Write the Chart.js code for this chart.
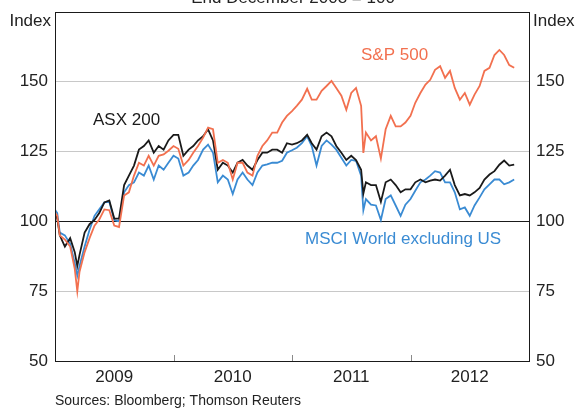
<!DOCTYPE html>
<html lang="en">
  <head>
    <meta charset="UTF-8" />
    <title>ASX 200, S&amp;P 500, MSCI World excluding US</title>
    <style>
      body { margin: 0; background: #fff; }
      canvas { display: block; }
    </style>
    <script src="https://cdn.jsdelivr.net/npm/chart.js"></script>
  </head>
  <body>
    <canvas id="indexChart" width="577" height="408"></canvas>
    <script>
      // End December 2008 = 100 at roughly half-monthly steps
      const dates = [
        "2009-01-02", "2009-01-08", "2009-01-16", "2009-02-01", "2009-02-16", "2009-03-01", "2009-03-09", "2009-03-16",
        "2009-04-01", "2009-04-16", "2009-05-01", "2009-05-16", "2009-06-01", "2009-06-16", "2009-07-01", "2009-07-16",
        "2009-08-01", "2009-08-16", "2009-09-01", "2009-09-16", "2009-10-01", "2009-10-16", "2009-11-01", "2009-11-16",
        "2009-12-01", "2009-12-16", "2010-01-01", "2010-01-16", "2010-02-01", "2010-02-16", "2010-03-01", "2010-03-16",
        "2010-04-01", "2010-04-16", "2010-05-01", "2010-05-16", "2010-06-01", "2010-06-16", "2010-07-01", "2010-07-16",
        "2010-08-01", "2010-08-16", "2010-09-01", "2010-09-16", "2010-10-01", "2010-10-16", "2010-11-01", "2010-11-16",
        "2010-12-01", "2010-12-16", "2011-01-01", "2011-01-16", "2011-02-01", "2011-02-16", "2011-03-01", "2011-03-16",
        "2011-04-01", "2011-04-16", "2011-05-01", "2011-05-16", "2011-06-01", "2011-06-16", "2011-07-01", "2011-07-16",
        "2011-08-01", "2011-08-08", "2011-08-16", "2011-09-01", "2011-09-16", "2011-10-01", "2011-10-16", "2011-11-01",
        "2011-11-16", "2011-12-01", "2011-12-16", "2012-01-01", "2012-01-16", "2012-02-01", "2012-02-16", "2012-03-01",
        "2012-03-16", "2012-04-01", "2012-04-16", "2012-05-01", "2012-05-16", "2012-06-01", "2012-06-16", "2012-07-01",
        "2012-07-16", "2012-08-01", "2012-08-16", "2012-09-01", "2012-09-16", "2012-10-01", "2012-10-16", "2012-11-01",
        "2012-11-16"
      ];
      const asx200 = [
        102.5, 101, 95, 91, 94, 89, 84, 88,
        96, 99, 100.5, 103, 106.8, 107.5, 101, 101,
        113, 116.4, 120, 125.7, 127, 129, 124.6, 127,
        125.7, 129, 131, 131, 123.5, 125.7, 127, 129,
        130.5, 133, 129, 118.5, 121, 120, 117.5, 121,
        122, 120, 118.5, 122, 124.6, 124.6, 125.7, 125.7,
        124.6, 128, 127.5, 128, 129, 131, 128, 125.7,
        130.5, 131.8, 130.5, 127, 124.6, 122, 123.5, 122,
        118.5, 110, 114, 113, 113, 107, 114, 115,
        113, 110.4, 111.5, 111.5, 114, 115, 114, 114.6,
        115, 114.6, 116.4, 118.5, 113, 109.3, 109.8, 109.3,
        110.4, 112, 115, 116.8, 118, 120.3, 121.8, 120,
        120.3
      ];
      const sp500 = [
        103, 102, 95, 93.5, 91, 83, 75, 82,
        89, 94, 98.5, 100.7, 104.3, 104, 98.5, 98,
        109.3, 110.4, 116.4, 121, 120, 123.5, 120, 123.5,
        124, 125.3, 127, 126, 120, 122, 124.6, 127,
        130, 133.6, 133, 121, 122, 121, 115, 121,
        121, 117.5, 116.4, 123.5, 127, 129, 131.8, 131.8,
        135.4, 137.8, 139.5, 141.4, 143.6, 147.5, 143.6, 143.6,
        146.8, 148.5, 150.3, 147.8, 145, 140, 146, 147.8,
        141.4, 124.5, 131.8, 129, 130.5, 122.5, 133, 137.8,
        134, 134, 135.4, 137.8, 142.5, 146, 149, 150.7,
        154.3, 155.6, 151.4, 153.9, 147.8, 143.6, 146, 141.8,
        145.4, 148.5, 153.9, 155, 159.6, 161.4, 159.6, 156,
        155
      ];
      const msciWorldExUS = [
        104, 103, 96, 95, 92, 85, 80.5, 84,
        91, 97, 102, 104.3, 106.8, 107, 100.5, 100,
        110.4, 113, 114, 117.5, 116.4, 120, 115, 120,
        118.5, 121, 123.5, 122.5, 116.4, 117.5, 120, 122,
        125.7, 127.5, 124.6, 114, 116.4, 115, 109.8, 115,
        117.5, 115, 113, 117.5, 120, 120.4, 121, 121,
        121.7, 124.6, 125.5, 126.4, 128, 130.5, 127, 120,
        127, 129, 127.5, 125.7, 122.8, 120, 122, 121.7,
        116.4, 104, 108, 106, 105.7, 100.5, 108, 109.3,
        105.7, 102, 106, 108, 111, 114, 115, 116.4,
        118, 117.5, 114, 114, 110.4, 104.3, 105, 102,
        105.7, 108.6, 111.5, 113.3, 115, 115, 113.3, 114,
        115
      ];
      const yearLabels = ["2009", "2010", "2011", "2012"];
      const yTicks = [50, 75, 100, 125, 150, 175];

      const FONT = "'Liberation Sans', Arial, sans-serif";
      const BLACK = "#1a1a1a";
      const ORANGE = "#f2704f";
      const BLUE = "#3a8bd3";

      function toYear(d) {
        const [y, m, day] = d.split("-").map(Number);
        const dim = new Date(y, m, 0).getDate();
        return y + (m - 1) / 12 + (day - 1) / dim / 12;
      }
      function points(values) {
        return values.map((v, i) => ({ x: toYear(dates[i]), y: v }));
      }

      const overlay = {
        id: "overlay",
        afterDraw(chart) {
          const { ctx, chartArea: a, scales } = chart;
          ctx.save();
          // year tick marks on the bottom axis
          ctx.strokeStyle = "#8a8a8a";
          ctx.lineWidth = 1;
          [2010, 2011, 2012].forEach(yr => {
            const px = Math.round(scales.x.getPixelForValue(yr)) + 0.5;
            ctx.beginPath();
            ctx.moveTo(px, a.bottom - 6);
            ctx.lineTo(px, a.bottom);
            ctx.stroke();
          });
          // frame
          ctx.strokeStyle = BLACK;
          ctx.strokeRect(Math.round(a.left) + 0.5, Math.round(a.top) + 0.5,
                         Math.round(a.right - a.left), Math.round(a.bottom - a.top));
          ctx.font = "17px " + FONT;
          ctx.textBaseline = "middle";
          ctx.fillStyle = "#222";
          ctx.textAlign = "right";
          ctx.fillText("Index", a.left - 4, 21);
          ctx.textAlign = "left";
          ctx.fillText("Index", a.right + 4, 21);
          ctx.textAlign = "center";
          ctx.textBaseline = "alphabetic";
          ctx.fillText("End December 2008 = 100", 293, 3);
          ctx.textBaseline = "middle";
          ctx.textAlign = "left";
          ctx.fillStyle = BLACK;
          ctx.fillText("ASX 200", 93, 120);
          ctx.fillStyle = ORANGE;
          ctx.fillText("S&P 500", 361, 55);
          ctx.fillStyle = BLUE;
          ctx.fillText("MSCI World excluding US", 305, 239);
          ctx.fillStyle = "#222";
          ctx.font = "14px " + FONT;
          ctx.fillText("Sources: Bloomberg; Thomson Reuters", 55, 401);
          ctx.restore();
        }
      };

      const tickFont = { family: FONT, size: 17 };
      const noPadY = s => { s.paddingTop = 0; s.paddingBottom = 0; };
      const ctx = document.getElementById("indexChart").getContext("2d");
      new Chart(ctx, {
        type: "line",
        data: {
          datasets: [
            { label: "S&P 500", data: points(sp500), borderColor: ORANGE },
            { label: "ASX 200", data: points(asx200), borderColor: BLACK },
            { label: "MSCI World excluding US", data: points(msciWorldExUS), borderColor: BLUE }
          ].map(ds => Object.assign(ds, { borderWidth: 1.8, pointRadius: 0, tension: 0, fill: false }))
        },
        options: {
          responsive: false,
          animation: false,
          devicePixelRatio: 1,
          layout: { padding: { top: 12, left: 0, right: 0, bottom: 0 } },
          plugins: { legend: { display: false }, tooltip: { enabled: false } },
          scales: {
            x: {
              type: "linear",
              min: 2009,
              max: 2013,
              afterBuildTicks: s => { s.ticks = yearLabels.map(l => ({ value: Number(l) + 0.5 })); },
              afterFit: s => { s.height = 47; s.paddingLeft = 0; s.paddingRight = 0; },
              ticks: {
                callback: v => String(Math.floor(v)),
                color: "#222",
                font: tickFont,
                padding: 6,
                maxRotation: 0,
                autoSkip: false
              },
              grid: { display: false, drawTicks: false },
              border: { display: false }
            },
            y: {
              position: "left",
              min: 50,
              max: 175,
              afterBuildTicks: s => { s.ticks = yTicks.map(v => ({ value: v })); },
              afterFit: s => { s.width = 55; noPadY(s); },
              ticks: { callback: v => (v === 175 ? "" : v), color: "#222", font: tickFont, padding: 7 },
              grid: {
                drawTicks: false,
                lineWidth: 1,
                color: c => {
                  const v = c.tick.value;
                  if (v === 100) return BLACK;
                  if (v === 50 || v === 175) return "rgba(0,0,0,0)";
                  return "#c8c8c8";
                }
              },
              border: { display: false }
            },
            y2: {
              position: "right",
              min: 50,
              max: 175,
              afterBuildTicks: s => { s.ticks = yTicks.map(v => ({ value: v })); },
              afterFit: s => { s.width = 48; noPadY(s); },
              ticks: { callback: v => (v === 175 ? "" : v), color: "#222", font: tickFont, padding: 7 },
              grid: { display: false, drawTicks: false },
              border: { display: false }
            }
          }
        },
        plugins: [overlay]
      });
    </script>
  </body>
</html>
